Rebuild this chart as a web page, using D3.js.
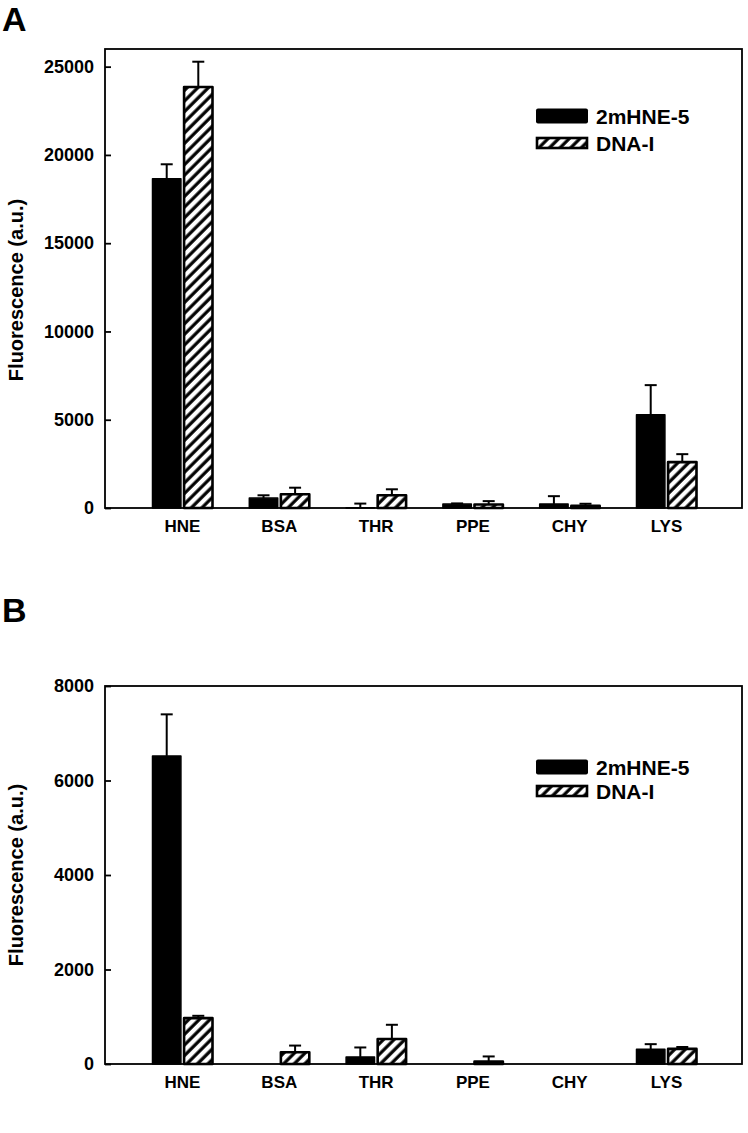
<!DOCTYPE html>
<html>
<head>
<meta charset="utf-8">
<script src="https://cdn.jsdelivr.net/npm/d3@7"></script>
<style>
  body { margin: 0; background: #fff; }
  svg text { font-family: "Liberation Sans", Arial, sans-serif; font-weight: bold; fill: #000; }
</style>
</head>
<body>
<div id="chart"></div>
<script>
const categories = ['HNE', 'BSA', 'THR', 'PPE', 'CHY', 'LYS'];
const seriesNames = ['2mHNE-5', 'DNA-I'];

// panel A
const aMhne = [18650, 560, 20, 220, 230, 5280];
const aMhneErr = [820, 160, 230, 40, 440, 1680];
const aDna = [23850, 775, 720, 200, 120, 2600];
const aDnaErr = [1430, 375, 340, 190, 120, 450];
const aTicks = [0, 5000, 10000, 15000, 20000, 25000];

// panel B
const bMhne = [6520, 0, 150, 0, 0, 310];
const bMhneErr = [880, 0, 200, 0, 0, 110];
const bDna = [970, 250, 530, 50, 0, 320];
const bDnaErr = [50, 140, 300, 110, 0, 40];
const bTicks = [0, 2000, 4000, 6000, 8000];

const W = 748, H = 1133;
const svg = d3.select('#chart').append('svg')
  .attr('width', W)
  .attr('height', H);

const defs = svg.append('defs');
defs.append('pattern')
  .attr('id', 'hatch')
  .attr('patternUnits', 'userSpaceOnUse')
  .attr('width', 7.5)
  .attr('height', 7.5)
  .attr('patternTransform', 'rotate(45)')
  .call(p => {
    p.append('rect').attr('width', 7.5).attr('height', 7.5).attr('fill', '#fff');
    p.append('line').attr('x1', 2).attr('y1', 0).attr('x2', 2).attr('y2', 7.5)
      .attr('stroke', '#000').attr('stroke-width', 3.2);
  });

function drawPanel(cfg) {
  const left = 105, right = 742;
  const top = cfg.top, bottom = cfg.bottom;

  const rows = categories.map((c, i) => ({
    cat: c,
    vals: [
      { s: 0, v: cfg.mhne[i], e: cfg.mhneErr[i] },
      { s: 1, v: cfg.dna[i], e: cfg.dnaErr[i] }
    ]
  }));

  const x0 = d3.scaleBand().domain(categories).range([left + 2, right])
    .paddingInner(0).paddingOuter(0.28);
  const step = x0.step();
  const x1 = d3.scaleBand().domain([0, 1])
    .range([step / 2 - 30, step / 2 + 30]).paddingInner(0.1);
  const y = d3.scaleLinear().domain(cfg.domain).range([bottom, top]);

  const g = svg.append('g');

  // panel letter
  svg.append('text')
    .attr('x', 2).attr('y', cfg.letterY)
    .style('font-size', '34px')
    .text(cfg.letter);

  // y axis, ticks pointing inward
  const yAxis = g.append('g')
    .attr('transform', `translate(${left},0)`)
    .call(d3.axisLeft(y).tickValues(cfg.ticks).tickSize(-6).tickSizeOuter(0).tickPadding(11).tickFormat(d3.format('d')));
  yAxis.select('.domain').remove();
  yAxis.selectAll('line').attr('stroke', '#000').attr('stroke-width', 1.8);
  yAxis.selectAll('text').style('font-size', '18px');

  const xAxis = g.append('g')
    .attr('transform', `translate(0,${bottom})`)
    .call(d3.axisBottom(x0).tickSize(0).tickPadding(12));
  xAxis.select('.domain').remove();
  xAxis.selectAll('text').style('font-size', '17px');

  svg.append('text')
    .attr('transform', `translate(23,${cfg.labelY}) rotate(-90)`)
    .attr('text-anchor', 'middle')
    .style('font-size', '20px')
    .text('Fluorescence (a.u.)');

  const groups = g.selectAll('.cat')
    .data(rows)
    .enter().append('g')
    .attr('class', 'cat')
    .attr('transform', d => `translate(${x0(d.cat)},0)`);

  const bars = groups.selectAll('.bar')
    .data(d => d.vals.filter(v => v.v > 0))
    .enter();

  bars.append('rect')
    .attr('class', 'bar')
    .attr('x', d => x1(d.s))
    .attr('y', d => y(d.v))
    .attr('width', x1.bandwidth())
    .attr('height', d => y(0) - y(d.v))
    .attr('fill', d => d.s === 0 ? '#000' : 'url(#hatch)')
    .attr('stroke', '#000')
    .attr('stroke-width', d => d.s === 0 ? 1.5 : 2.6)
    .attr('stroke-linejoin', 'round');

  // error bars, upward only
  const errs = groups.selectAll('.err')
    .data(d => d.vals.filter(v => v.e > 0))
    .enter().append('g')
    .attr('class', 'err')
    .attr('stroke', '#000')
    .attr('stroke-width', 2);
  errs.append('line')
    .attr('x1', d => x1(d.s) + x1.bandwidth() / 2)
    .attr('x2', d => x1(d.s) + x1.bandwidth() / 2)
    .attr('y1', d => y(d.v))
    .attr('y2', d => y(d.v + d.e));
  errs.append('line')
    .attr('x1', d => x1(d.s) + x1.bandwidth() / 2 - 6)
    .attr('x2', d => x1(d.s) + x1.bandwidth() / 2 + 6)
    .attr('y1', d => y(d.v + d.e))
    .attr('y2', d => y(d.v + d.e));

  // frame
  g.append('rect')
    .attr('x', left).attr('y', top)
    .attr('width', right - left).attr('height', bottom - top)
    .attr('fill', 'none')
    .attr('stroke', '#000')
    .attr('stroke-width', 1.8);

  // legend
  const lg = g.append('g').attr('transform', `translate(536,${cfg.legendY})`);
  lg.append('rect')
    .attr('x', 0).attr('y', -7.5).attr('width', 52).attr('height', 15)
    .attr('rx', 2)
    .attr('fill', '#000');
  lg.append('text')
    .attr('x', 60).attr('y', 0).attr('dy', '0.36em')
    .style('font-size', '21px')
    .text(seriesNames[0]);
  lg.append('rect')
    .attr('x', 1).attr('y', cfg.legendGap - 5).attr('width', 50).attr('height', 10)
    .attr('fill', 'url(#hatch)')
    .attr('stroke', '#000').attr('stroke-width', 2.6);
  lg.append('text')
    .attr('x', 60).attr('y', cfg.legendGap).attr('dy', '0.36em')
    .style('font-size', '21px')
    .text(seriesNames[1]);
}

drawPanel({
  letter: 'A', letterY: 31,
  top: 49, bottom: 508, domain: [0, 26000], ticks: aTicks,
  mhne: aMhne, mhneErr: aMhneErr, dna: aDna, dnaErr: aDnaErr,
  labelY: 290, legendY: 116, legendGap: 27
});

drawPanel({
  letter: 'B', letterY: 622,
  top: 686, bottom: 1064, domain: [0, 8000], ticks: bTicks,
  mhne: bMhne, mhneErr: bMhneErr, dna: bDna, dnaErr: bDnaErr,
  labelY: 875, legendY: 767, legendGap: 24
});
</script>
</body>
</html>
